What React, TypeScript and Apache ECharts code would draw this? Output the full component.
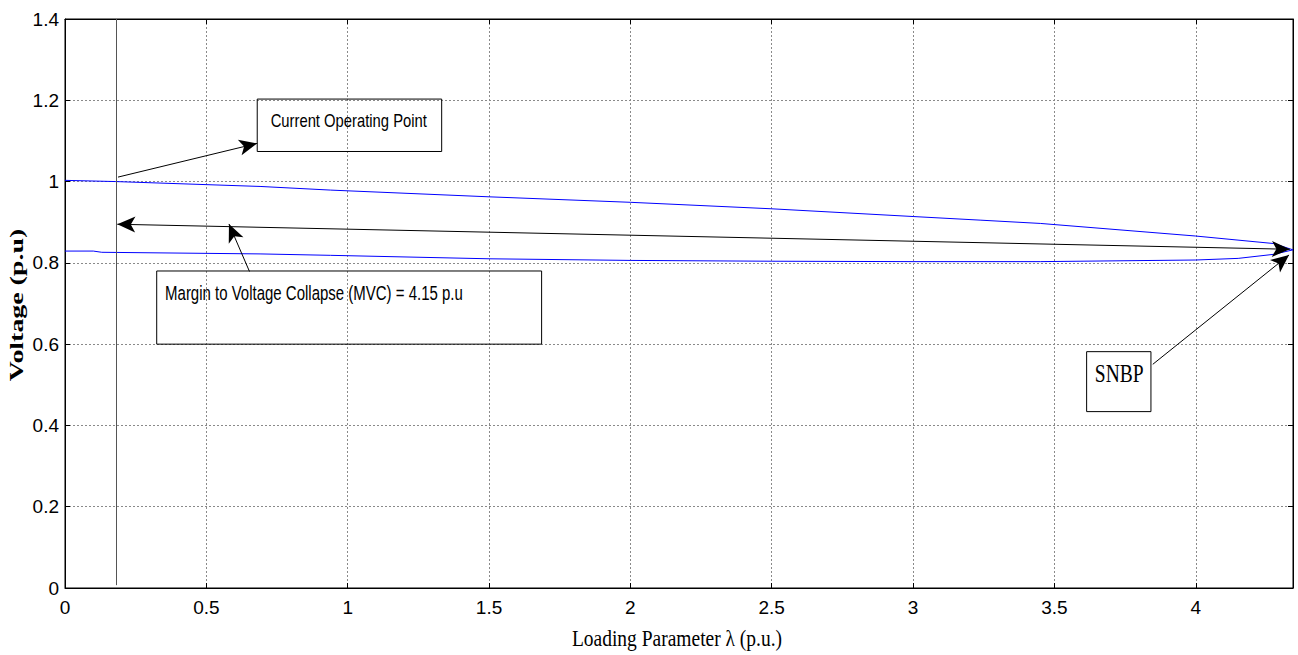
import React, { useEffect, useRef } from "react";
import * as echarts from "echarts";

// Upper (stable) branch of the PV curve
const lambdaUpper = [0, 0.18, 0.69, 0.94, 1.5, 2.0, 2.5, 3.0, 3.24, 3.45, 4.0, 4.276, 4.344];
const voltageUpper = [1.003, 1.0, 0.988, 0.979, 0.9625, 0.949, 0.933, 0.914, 0.905, 0.897, 0.866, 0.8475, 0.832];

// Lower branch of the PV curve
const lambdaLower = [0, 0.1, 0.13, 0.69, 0.94, 1.5, 2.0, 2.5, 3.0, 3.45, 4.0, 4.15, 4.276, 4.344];
const voltageLower = [0.829, 0.829, 0.826, 0.822, 0.8185, 0.81, 0.806, 0.804, 0.803, 0.803, 0.807, 0.811, 0.821, 0.832];

const xTicks = { min: 0, max: 4.344, interval: 0.5 };
const yTicks = { min: 0, max: 1.4, interval: 0.2 };

// Annotation geometry in data coordinates
const operatingLambda = 0.18;
const copArrow = [[0.1875, 1.011], [0.68, 1.094]];
const copBox = [[0.68, 1.203], [1.3325, 1.074]];
const copText = { text: "Current Operating Point", at: [0.7275, 1.15] };
const mvcArrow = [[0.185, 0.895], [4.333, 0.8334]];
const mvcPointer = [[0.6526, 0.7788], [0.58, 0.8957]];
const mvcBox = [[0.3244, 0.78], [1.686, 0.6]];
const mvcText = { text: "Margin to Voltage Collapse (MVC) = 4.15 p.u", at: [0.354, 0.725] };
const snbpBox = [[3.614, 0.5815], [3.8415, 0.434]];
const snbpText = { text: "SNBP", at: [3.643, 0.5266] };
const snbpArrow = [[3.848, 0.5504], [4.33, 0.8194]];

const xName = "Loading Parameter λ (p.u.)";
const yName = "Voltage (p.u)";

const sans = "'Liberation Sans', Arial, sans-serif";
const serif = "'Liberation Serif', 'Times New Roman', serif";

export default function App() {
  const ref = useRef<HTMLDivElement>(null);

  useEffect(() => {
    document.body.style.margin = "0";
    document.body.style.overflow = "hidden";
    const chart = echarts.init(ref.current!, null, { renderer: "svg" });

    const gridLine = { show: true, lineStyle: { color: "#8a8a8a", width: 1, type: [2, 2] as any } };
    const axisLine = { show: true, onZero: false, lineStyle: { color: "#000", width: 1 } };
    const tick = { show: true, inside: true, length: 5, lineStyle: { color: "#000" } };

    const upper = lambdaUpper.map((x, i) => [x, voltageUpper[i]]);
    const lower = lambdaLower.map((x, i) => [x, voltageLower[i]]);

    const arrow = (seg: number[][], start: string, end: string) => [
      { coord: seg[0], symbol: start },
      { coord: seg[1], symbol: end },
    ];
    const box = (b: number[][]) => [{ coord: b[0] }, { coord: b[1] }];

    chart.setOption({
      animation: false,
      grid: { left: 65, top: 19, width: 1228, height: 569, show: true, borderColor: "#000", borderWidth: 1, backgroundColor: "#fff" },
      xAxis: [
        {
          type: "value", ...xTicks, position: "bottom",
          axisLine, axisTick: tick, splitLine: gridLine,
          axisLabel: { showMaxLabel: false, color: "#000", fontFamily: sans, fontSize: 19, margin: 10 },
        },
        {
          type: "value", ...xTicks, position: "top",
          axisLine, axisTick: tick, splitLine: { show: false }, axisLabel: { show: false },
        },
      ],
      yAxis: [
        {
          type: "value", ...yTicks, position: "left",
          axisLine, axisTick: tick, splitLine: gridLine,
          axisLabel: { color: "#000", fontFamily: sans, fontSize: 19, margin: 6 },
        },
        {
          type: "value", ...yTicks, position: "right",
          axisLine, axisTick: tick, splitLine: { show: false }, axisLabel: { show: false },
        },
      ],
      series: [
        {
          name: "Upper branch", type: "line", data: upper, showSymbol: false, symbol: "none",
          lineStyle: { color: "#0000ff", width: 1 }, itemStyle: { color: "#0000ff" },
          markLine: {
            silent: true, animation: false,
            symbolSize: [12, 18],
            label: { show: false },
            emphasis: { disabled: true },
            lineStyle: { color: "#000", width: 1, type: "solid" },
            data: [
              [{ coord: [operatingLambda, 0.007], symbol: "none", lineStyle: { color: "#555" } }, { coord: [operatingLambda, 1.4], symbol: "none" }],
              arrow(copArrow, "none", "arrow"),
              arrow(mvcArrow, "arrow", "arrow"),
              arrow(mvcPointer, "none", "arrow"),
              arrow(snbpArrow, "none", "arrow"),
            ],
          },
          markArea: {
            silent: true,
            label: { show: false },
            emphasis: { disabled: true },
            itemStyle: { color: "rgba(0,0,0,0)", borderColor: "#000", borderWidth: 1 },
            data: [box(copBox), box(mvcBox), box(snbpBox)],
          },
        },
        {
          name: "Lower branch", type: "line", data: lower, showSymbol: false, symbol: "none",
          lineStyle: { color: "#0000ff", width: 1 }, itemStyle: { color: "#0000ff" },
        },
      ],
    });

    const px = (p: number[]) => chart.convertToPixel({ gridIndex: 0 }, p) as number[];
    const label = (t: { text: string; at: number[] }, font: string, size: number, sx: number, sy: number) => {
      const [x, y] = px(t.at);
      return {
        type: "text", x, y, scaleX: sx, scaleY: sy, silent: true,
        style: { text: t.text, fill: "#000", font: `${size}px ${font}`, align: "left", verticalAlign: "middle" },
      };
    };

    chart.setOption({
      graphic: [
        label(copText, sans, 14.8, 1, 1.3),
        label(mvcText, sans, 15, 1, 1.3),
        label(snbpText, serif, 19.5, 1, 1.3),
        {
          type: "text", x: 677, y: 638, scaleY: 1.2, silent: true,
          style: { text: xName, fill: "#000", font: `19.5px ${serif}`, align: "center", verticalAlign: "middle" },
        },
        {
          type: "text", x: 17, y: 305, rotation: Math.PI / 2, scaleX: 1.55, silent: true,
          style: { text: yName, fill: "#000", font: `bold 18px ${serif}`, align: "center", verticalAlign: "middle" },
        },
      ],
    });

    return () => chart.dispose();
  }, []);

  return <div ref={ref} style={{ width: 1298, height: 655 }} />;
}
